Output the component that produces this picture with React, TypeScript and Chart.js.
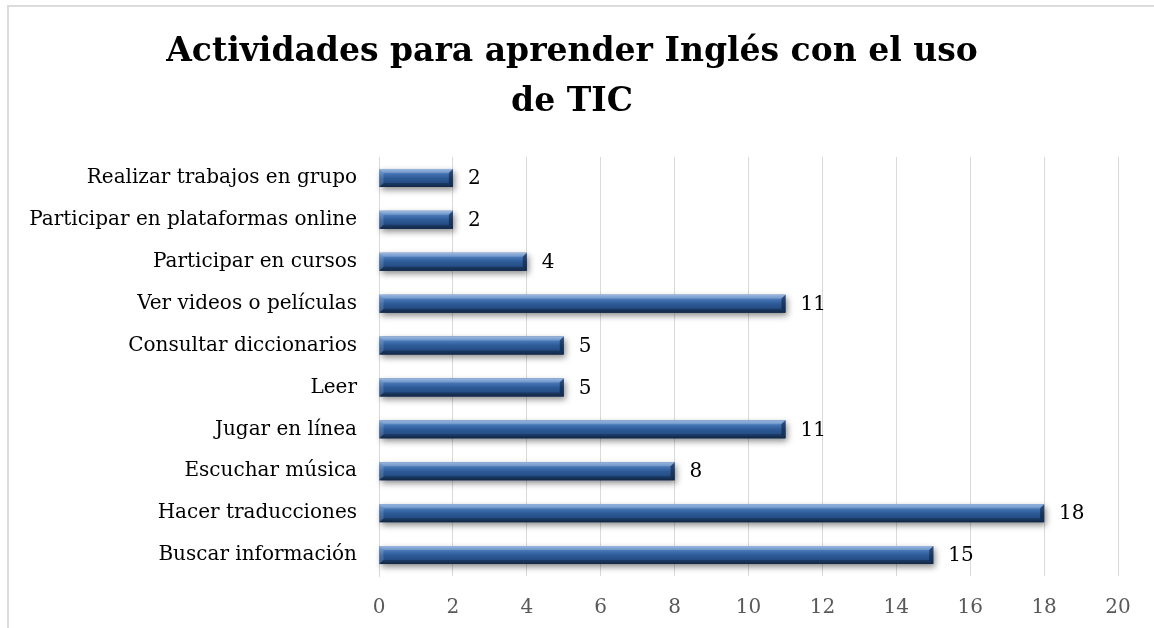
import React, { useEffect, useRef } from "react";
import { Chart, registerables } from "chart.js";

Chart.register(...registerables);

const categories = [
  "Realizar trabajos en grupo",
  "Participar en plataformas online",
  "Participar en cursos",
  "Ver videos o películas",
  "Consultar diccionarios",
  "Leer",
  "Jugar en línea",
  "Escuchar música",
  "Hacer traducciones",
  "Buscar información",
];
const values = [2, 2, 4, 11, 5, 5, 11, 8, 18, 15];
const titleLines = ["Actividades para aprender Inglés con el uso", "de TIC"];
const xMin = 0;
const xMax = 20;
const xStep = 2;

const FONT = "'DejaVu Serif', 'Liberation Serif', serif";

const barStylePlugin = {
  id: "barStyle",
  afterDatasetsDraw(chart: any) {
    const ctx = chart.ctx;
    const meta = chart.getDatasetMeta(0);
    meta.data.forEach((el: any, i: number) => {
      const left = Math.min(el.base, el.x);
      const right = Math.max(el.base, el.x);
      const top = el.y - el.height / 2;
      const bottom = el.y + el.height / 2;
      const w = right - left;
      const h = bottom - top;
      const g = ctx.createLinearGradient(0, top, 0, bottom);
      g.addColorStop(0, "#7fa6da");
      g.addColorStop(0.18, "#4f7ebe");
      g.addColorStop(0.5, "#2d5b98");
      g.addColorStop(0.85, "#22487d");
      g.addColorStop(1, "#17325a");
      ctx.save();
      ctx.shadowColor = "rgba(0,0,0,0.45)";
      ctx.shadowBlur = 6;
      ctx.shadowOffsetX = 2;
      ctx.shadowOffsetY = 3;
      ctx.fillStyle = g;
      ctx.fillRect(left, top, w, h);
      ctx.restore();
      const b = 4;
      ctx.save();
      ctx.fillStyle = "rgba(255,255,255,0.22)";
      ctx.beginPath();
      ctx.moveTo(left, top);
      ctx.lineTo(right, top);
      ctx.lineTo(right - b, top + b);
      ctx.lineTo(left + b, top + b);
      ctx.closePath();
      ctx.fill();
      ctx.fillStyle = "rgba(0,0,0,0.25)";
      ctx.beginPath();
      ctx.moveTo(left, bottom);
      ctx.lineTo(right, bottom);
      ctx.lineTo(right - b, bottom - b);
      ctx.lineTo(left + b, bottom - b);
      ctx.closePath();
      ctx.fill();
      ctx.fillStyle = "rgba(10,25,55,0.55)";
      ctx.beginPath();
      ctx.moveTo(right, top);
      ctx.lineTo(right, bottom);
      ctx.lineTo(right - b, bottom - b);
      ctx.lineTo(right - b, top + b);
      ctx.closePath();
      ctx.fill();
      ctx.fillStyle = "rgba(255,255,255,0.15)";
      ctx.beginPath();
      ctx.moveTo(left, top);
      ctx.lineTo(left, bottom);
      ctx.lineTo(left + b, bottom - b);
      ctx.lineTo(left + b, top + b);
      ctx.closePath();
      ctx.fill();
      ctx.restore();
      ctx.save();
      ctx.font = "20px " + FONT;
      ctx.fillStyle = "#000000";
      ctx.textAlign = "left";
      ctx.textBaseline = "middle";
      ctx.fillText(String(values[i]), right + 15, el.y + 1);
      ctx.restore();
    });
  },
};

export default function App() {
  const ref = useRef<HTMLCanvasElement | null>(null);
  useEffect(() => {
    if (!ref.current) return;
    const chart = new Chart(ref.current, {
      type: "bar",
      data: {
        labels: categories,
        datasets: [
          {
            data: values,
            backgroundColor: "#2f5d9a",
            borderWidth: 0,
            barPercentage: 0.86,
            categoryPercentage: 0.5,
          },
        ],
      },
      plugins: [barStylePlugin],
      options: {
        indexAxis: "y",
        responsive: false,
        animation: false,
        layout: { padding: { left: 26, right: 36, top: 0, bottom: 9 } },
        plugins: {
          legend: { display: false },
          tooltip: { enabled: false },
          title: {
            display: true,
            text: titleLines,
            color: "#000000",
            font: { family: FONT, size: 33, weight: "bold", lineHeight: 1.5 },
            padding: { top: 28, bottom: 30 },
          },
        },
        scales: {
          x: {
            min: xMin,
            max: xMax,
            ticks: {
              stepSize: xStep,
              color: "#595959",
              font: { family: FONT, size: 20, lineHeight: 1.2 },
              padding: 20,
            },
            grid: { color: "#d9d9d9", lineWidth: 1, drawTicks: false },
            border: { display: false },
          },
          y: {
            afterFit: (scale: any) => {
              scale.width = 353;
            },
            ticks: {
              color: "#000000",
              font: { family: FONT, size: 20 },
              padding: 22,
            },
            grid: { display: false, drawTicks: false },
            border: { display: true, color: "#d9d9d9", width: 1 },
          },
        },
      },
    } as any);
    return () => chart.destroy();
  }, []);
  return (
    <div
      style={{
        position: "fixed",
        left: 0,
        top: 0,
        width: 1154,
        height: 628,
        overflow: "hidden",
        background: "#ffffff",
      }}
    >
      <div
        style={{
          position: "absolute",
          left: 7,
          top: 5,
          width: 1200,
          height: 700,
          border: "2px solid #dcdcdc",
          boxSizing: "border-box",
        }}
      />
      <canvas
        ref={ref}
        width={1154}
        height={649}
        style={{ position: "absolute", left: 0, top: 0, width: 1154, height: 649 }}
      />
    </div>
  );
}
